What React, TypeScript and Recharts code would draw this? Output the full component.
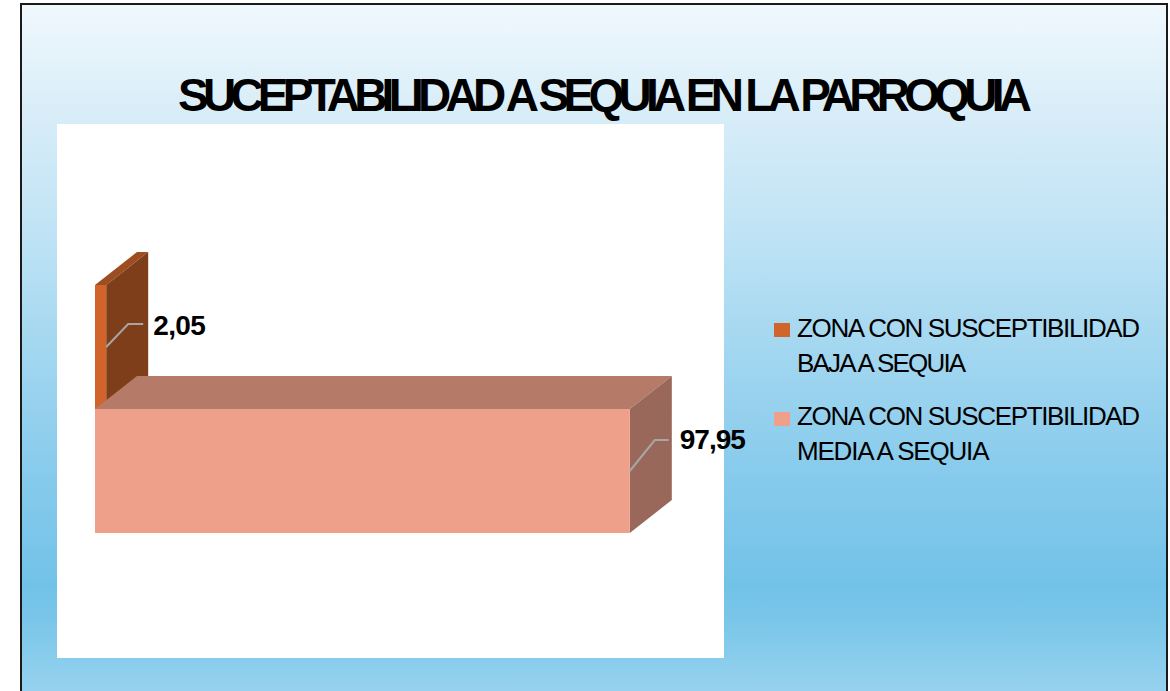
import React from 'react';
import { BarChart, Bar, XAxis, YAxis, Legend, LabelList } from 'recharts';

const categories = ['PARROQUIA'];
const seriesNames = [
  'ZONA CON SUSCEPTIBILIDAD BAJA A SEQUIA',
  'ZONA CON SUSCEPTIBILIDAD MEDIA A SEQUIA',
];
const bajaValues = [2.05];
const mediaValues = [97.95];
const legendLines = [
  ['ZONA CON SUSCEPTIBILIDAD', 'BAJA A SEQUIA'],
  ['ZONA CON SUSCEPTIBILIDAD', 'MEDIA A SEQUIA'],
];
const titleText = 'SUCEPTABILIDAD A SEQUIA EN LA PARROQUIA';

const data = categories.map((c, i) => ({ name: c, baja: bajaValues[i], media: mediaValues[i] }));

const DX = 42;
const DY = 33;

const faces = {
  baja: { front: '#d0642a', top: '#9e4d20', side: '#7e3e1a' },
  media: { front: '#eea08a', top: '#b67a69', side: '#99685a' },
};

const makeBox = (c: { front: string; top: string; side: string }) => (props: any) => {
  const { x, y, width, height } = props;
  if (width == null || height == null) return null;
  const x2 = x + width;
  const y2 = y + height;
  return (
    <g>
      <polygon points={`${x},${y} ${x2},${y} ${x2 + DX},${y - DY} ${x + DX},${y - DY}`} fill={c.top} />
      <polygon points={`${x2},${y} ${x2 + DX},${y - DY} ${x2 + DX},${y2 - DY} ${x2},${y2}`} fill={c.side} />
      <rect x={x} y={y} width={width} height={height} fill={c.front} />
    </g>
  );
};

const fmt = (v: number) => v.toFixed(2).replace('.', ',');

const makeLabel = (rise: number, run: number, end: number, tx: number, base: number, ls: number) => (props: any) => {
  const { x, y, width, height, value } = props;
  const sx = x + width;
  const sy = y + height / 2;
  return (
    <g>
      <polyline
        points={`${sx},${sy} ${sx + run},${sy - rise} ${sx + end},${sy - rise}`}
        fill="none"
        stroke="#a6a6a6"
        strokeWidth={2}
      />
      <text
        x={sx + tx}
        y={sy - base}
        fontFamily="Liberation Sans, Arial, sans-serif"
        fontWeight="bold"
        fontSize={28}
        fill="#000"
        letterSpacing={ls}
      >
        {fmt(Number(value))}
      </text>
    </g>
  );
};

const legendColors = [faces.baja.front, faces.media.front];
const legendSpacing = [
  [-1.35, -1.8],
  [-1.35, -1.2],
];

const LegendContent = () => (
  <svg width={400} height={180} style={{ display: 'block' }}>
    {legendLines.map((lines, i) => (
      <g key={i}>
        <rect x={14} y={23 + i * 89} width={16} height={14} fill={legendColors[i]} />
        {lines.map((t, j) => (
          <text
            key={j}
            x={37}
            y={37 + i * 88 + j * 35}
            fontFamily="Liberation Sans, Arial, sans-serif"
            fontSize={26}
            fill="#000"
            letterSpacing={legendSpacing[i][j]}
          >
            {t}
          </text>
        ))}
      </g>
    ))}
  </svg>
);

export default function App() {
  return (
    <div style={{ position: 'absolute', left: 0, top: 0, width: 1170, height: 691, overflow: 'hidden', background: '#fff' }}>
      <div
        style={{
          position: 'absolute',
          left: 20,
          top: 3,
          width: 1148,
          height: 720,
          boxSizing: 'border-box',
          border: '2px solid #1a1a1a',
          background:
            'linear-gradient(to bottom, #f0f8fd 0%, #d8edf8 15%, #bfe3f5 32%, #a8d9f1 45%, #88cbec 65%, #72c2e8 81%, #7ac6e9 86%, #a2d7f1 100%)',
        }}
      />
      <div style={{ position: 'absolute', left: 57, top: 124, width: 667, height: 534, background: '#fff' }} />
      <svg style={{ position: 'absolute', left: 0, top: 0 }} width={1170} height={130}>
        <text
          x={178}
          y={111}
          fontFamily="Liberation Sans, Arial, sans-serif"
          fontWeight="bold"
          fontSize={46}
          fill="#000"
          letterSpacing={-5.75}
        >
          {titleText}
        </text>
      </svg>
      <div style={{ position: 'absolute', left: 0, top: 0 }}>
        <BarChart
          width={1170}
          height={691}
          data={data}
          layout="vertical"
          margin={{ top: 285, right: 129, bottom: 158, left: 95 }}
          barCategoryGap={0}
          barGap={0}
        >
          <XAxis type="number" domain={[0, 100]} hide />
          <YAxis type="category" dataKey="name" hide />
          <Legend
            layout="vertical"
            align="right"
            verticalAlign="middle"
            content={LegendContent}
            wrapperStyle={{ position: 'absolute', left: 760, top: 300, width: 400, height: 180 }}
          />
          <Bar dataKey="baja" name={seriesNames[0]} fill={faces.baja.front} shape={makeBox(faces.baja)} isAnimationActive={false}>
            <LabelList dataKey="baja" content={makeLabel(23, 22, 37, 47, 12, -0.6)} />
          </Bar>
          <Bar dataKey="media" name={seriesNames[1]} fill={faces.media.front} shape={makeBox(faces.media)} isAnimationActive={false}>
            <LabelList dataKey="media" content={makeLabel(31, 25, 39, 50, 22, -1)} />
          </Bar>
        </BarChart>
      </div>
    </div>
  );
}
